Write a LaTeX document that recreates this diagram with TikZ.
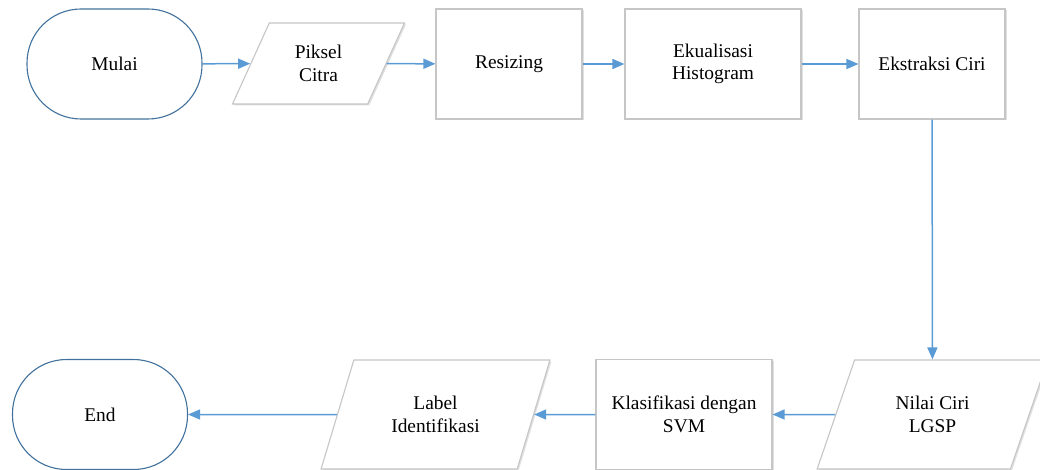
\documentclass[tikz,border=0pt]{standalone}
\usepackage{fontspec}
\setmainfont{Liberation Serif}
\usetikzlibrary{shapes.geometric,arrows.meta,shadows}
\definecolor{connc}{HTML}{5B9BD5}
\definecolor{termc}{HTML}{41719C}
\definecolor{boxline}{HTML}{C6C6C6}
\begin{document}
\begin{tikzpicture}[x=1pt,y=-1pt,
  font=\fontsize{19.4}{22.7}\selectfont,
  termbox/.style={draw=termc, line width=1.1pt, rounded corners=54pt,
    minimum width=175pt, minimum height=110pt, align=center, inner sep=0pt},
  procbox/.style={draw=boxline, line width=1.1pt, minimum height=110pt,
    align=center, fill=white, inner sep=0pt,
    drop shadow={shadow xshift=1.5pt, shadow yshift=-1.5pt, fill=black, opacity=0.12}},
  iobox/.style={trapezium, trapezium left angle=64, trapezium right angle=116,
    trapezium stretches=true, draw=boxline, line width=1.1pt, fill=white,
    align=center, inner sep=0pt,
    drop shadow={shadow xshift=1.5pt, shadow yshift=-1.5pt, fill=black, opacity=0.12}},
  connector/.style={draw=connc, line width=1.5pt, -{Triangle[length=12pt,width=10pt]}}]
\useasboundingbox (0,0) rectangle (1040,470);
\node[termbox] (mulai) at (114.5,64) {Mulai};
\node[iobox, minimum width=173pt, minimum height=81pt] (piksel) at (318.5,63.5) {Piksel\\Citra};
\node[procbox, minimum width=146pt] (resize) at (509,64) {Resizing};
\node[procbox, minimum width=176pt] (ekual) at (713,64) {Ekualisasi\\Histogram};
\node[procbox, minimum width=146pt] (ekstr) at (932,64) {Ekstraksi Ciri};
\node[iobox, minimum width=231pt, minimum height=109pt] (nilai) at (932.5,414.5) {Nilai Ciri\\LGSP};
\node[procbox, minimum width=176pt] (klas) at (684,414.5) {Klasifikasi dengan\\SVM};
\node[iobox, minimum width=229pt, minimum height=109pt] (label) at (435.5,414.5) {Label\\Identifikasi};
\node[termbox] (end) at (100,414.5) {End};
\draw[connector] (mulai) -- (piksel);
\draw[connector] (piksel) -- (resize);
\draw[connector] (resize) -- (ekual);
\draw[connector] (ekual) -- (ekstr);
\draw[connector] (ekstr) -- (nilai);
\draw[connector] (nilai) -- (klas);
\draw[connector] (klas) -- (label);
\draw[connector] (label) -- (end);
\end{tikzpicture}
\end{document}
